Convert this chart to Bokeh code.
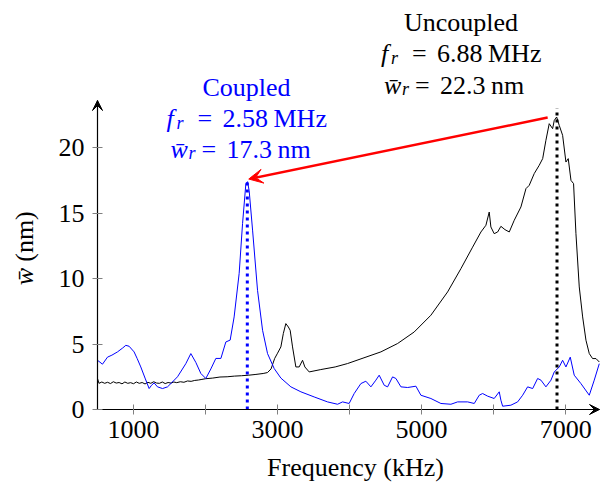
import numpy as np
from bokeh.plotting import figure
from bokeh.models import (Label, Arrow, VeeHead, FixedTicker, Range1d)
from bokeh.embed import file_html
from bokeh.resources import INLINE

# ---------------- data ----------------
freq_uncoupled = [500, 520, 560, 600, 640, 680, 720, 760, 800, 840, 880, 920, 960, 1000,
                  1040, 1080, 1120, 1160, 1200, 1240, 1280, 1320, 1360, 1400, 1440, 1480,
                  1520, 1560, 1600, 1650, 1700, 1750, 1800, 1850, 1900, 1950, 2000, 2100,
                  2200, 2300, 2400, 2500, 2600, 2700, 2800, 2860, 2910, 2960, 3000, 3046,
                  3080, 3115, 3150, 3175, 3208, 3254, 3300, 3347, 3379, 3439, 3600, 3800,
                  3972, 4200, 4435, 4667, 4897, 5129, 5361, 5546, 5708, 5824, 5893, 5939,
                  5962, 6008, 6056, 6101, 6157, 6217, 6286, 6379, 6449, 6494, 6564, 6633,
                  6681, 6726, 6772, 6819, 6842, 6875, 6911, 6958, 7004, 7036, 7074, 7110,
                  7143, 7189, 7236, 7282, 7328, 7374, 7421, 7467]
w_uncoupled = [2.37, 2.0, 2.1, 2.0, 2.08, 1.98, 2.12, 2.02, 2.06, 1.96, 2.1, 2.0, 2.05, 1.97,
               2.1, 2.0, 2.06, 1.95, 2.08, 2.0, 2.12, 2.02, 2.0, 2.1, 1.98, 2.06,
               2.02, 2.1, 2.05, 2.12, 2.08, 2.18, 2.15, 2.22, 2.25, 2.3, 2.35, 2.4,
               2.48, 2.5, 2.55, 2.58, 2.62, 2.68, 2.75, 2.82, 3.1, 3.9, 4.3, 4.78,
               5.8, 6.56, 6.3, 6.05, 4.78, 3.25, 3.25, 3.76, 3.25, 2.87, 3.05, 3.25,
               3.51, 3.95, 4.4, 5.04, 5.92, 7.2, 8.98, 10.76, 12.4, 13.56, 14.07, 15.08,
               13.94, 13.43, 13.56, 13.99, 13.74, 13.56, 14.45, 15.47, 16.87, 17.12, 18.02, 18.65,
               19.16, 20.56, 21.83, 21.45, 22.08, 22.34, 21.7, 20.94, 18.9, 19.16, 17.5, 17.25,
               13.43, 9.36, 7.07, 5.29, 4.27, 3.89, 3.89, 3.63]

freq_coupled = [500, 569, 639, 700, 778, 850, 893, 939, 1008, 1050, 1101, 1160, 1217, 1250,
                1286, 1333, 1403, 1472, 1540, 1611, 1726, 1796, 1865, 1935, 2004, 2074,
                2143, 2213, 2282, 2342, 2397, 2467, 2514, 2560, 2583, 2606, 2653, 2722,
                2792, 2861, 2953, 3046, 3185, 3324, 3508, 3694, 3833, 3903, 3994, 4064,
                4157, 4226, 4296, 4365, 4411, 4481, 4528, 4597, 4643, 4713, 4806, 4921,
                4990, 5129, 5268, 5407, 5500, 5639, 5731, 5800, 5847, 5917, 6008, 6078,
                6101, 6125, 6240, 6333, 6403, 6472, 6542, 6611, 6657, 6726, 6796, 6842,
                6911, 6958, 7004, 7064, 7119, 7212, 7328, 7397, 7467]
w_coupled = [3.76, 3.46, 4.0, 4.15, 4.4, 4.7, 4.9, 4.83, 4.4, 3.9, 3.25, 2.4, 1.6, 1.85,
             2.03, 1.73, 1.6, 1.73, 2.1, 2.5, 3.5, 4.27, 3.6, 2.75, 2.37, 3.1,
             3.9, 3.9, 5.16, 5.3, 7.07, 10.4, 14.2, 17.25, 17.4, 16.7, 13.7, 9.1,
             6.05, 4.27, 3.13, 2.4, 1.73, 1.35, 0.96, 0.58, 0.4, 0.58, 0.46, 1.22,
             1.98, 2.16, 1.73, 2.24, 2.62, 1.85, 1.73, 2.49, 2.37, 1.73, 1.68, 1.78,
             1.09, 0.84, 0.46, 0.4, 0.58, 0.58, 0.46, 1.09, 1.22, 1.02, 0.84, 1.35,
             0.71, 0.25, 0.33, 0.58, 1.09, 1.73, 1.6, 2.37, 2.24, 1.73, 2.24, 2.87,
             3.25, 3.76, 3.25, 4.0, 2.62, 1.98, 1.09, 2.24, 3.5]

# resonance markers: [coupled, uncoupled]
peak_freq = [2580, 6880]
peak_marker_top = [17.6, 23.0]
arrow_from = (6750, 22.3)
arrow_to = (2600, 17.6)

x_ticks = [1000, 2000, 3000, 4000, 5000, 6000, 7000]
x_tick_labels = {1000: "1000", 2000: "", 3000: "3000", 4000: "", 5000: "5000", 6000: "", 7000: "7000"}
y_ticks = [0, 5, 10, 15, 20]

# ---------------- layout ----------------
W, H = 600, 485
L, R, T, B = 97, 599, 100, 409       # pixel box of the axes
X0, X1 = 500, 7470                   # axis extents (data)
Y0, Y1 = 0, 23.6
FONT = "Liberation Serif"
FS = "26px"
SUB = "18px"
BLUE = "#0000ff"
SHIFT = 9   # label baseline correction (px)

KX = (X1 - X0) / (R - L)
KY = (Y1 - Y0) / (B - T)


def dx(px):
    return X0 + (px - L) * KX


def dy(py):
    return Y0 + (B - py) * KY


# frame covers the whole canvas; axes are pinned at x=500 and y=0
p = figure(width=W, height=H, output_backend="svg", toolbar_location=None,
           x_range=Range1d(dx(0), dx(W)), y_range=Range1d(dy(H), dy(0)),
           min_border_left=0, min_border_right=0, min_border_top=0, min_border_bottom=0)
p.outline_line_color = None
p.grid.visible = False
p.background_fill_color = "white"
p.border_fill_color = "white"

xa = p.xaxis[0]
ya = p.yaxis[0]
xa.fixed_location = Y0
ya.fixed_location = X0
xa.bounds = (X0, X1)
ya.bounds = (Y0, Y1)

for ax in (xa, ya):
    ax.axis_line_color = "black"
    ax.axis_line_width = 1.2
    ax.major_tick_line_color = "#808080"
    ax.major_tick_in = 5
    ax.major_tick_out = 5
    ax.minor_tick_line_color = None
    ax.major_label_text_font = FONT
    ax.major_label_text_font_size = FS
    ax.major_label_text_color = "black"

xa.ticker = FixedTicker(ticks=x_ticks)
xa.major_label_overrides = x_tick_labels
xa.major_label_standoff = 6
ya.ticker = FixedTicker(ticks=y_ticks)
ya.major_label_standoff = 8

# axis arrow heads
p.add_layout(Arrow(end=VeeHead(size=10, fill_color="black", line_color="black"),
                   x_start=X1 - 50, y_start=Y0, x_end=X1, y_end=Y0, line_color="black", line_width=1.2))
p.add_layout(Arrow(end=VeeHead(size=10, fill_color="black", line_color="black"),
                   x_start=X0, y_start=Y1 - 0.5, x_end=X0, y_end=Y1, line_color="black", line_width=1.2))

# curves
p.line(freq_uncoupled, w_uncoupled, line_color="black", line_width=1)
p.line(freq_coupled, w_coupled, line_color=BLUE, line_width=1)

# dotted resonance markers
p.segment(x0=[peak_freq[0]], y0=[0], x1=[peak_freq[0]], y1=[peak_marker_top[0]],
          line_color=BLUE, line_width=3, line_dash="3 4")
p.segment(x0=[peak_freq[1]], y0=[0], x1=[peak_freq[1]], y1=[peak_marker_top[1]],
          line_color="black", line_width=3, line_dash="3 4")

# red arrow
p.add_layout(Arrow(end=VeeHead(size=14, fill_color="red", line_color="red"),
                   x_start=arrow_from[0], y_start=arrow_from[1],
                   x_end=arrow_to[0], y_end=arrow_to[1],
                   line_color="red", line_width=2.5))


def txt(s, px, py, color="black", size=FS, style="normal", align="left", angle=0):
    if angle == 0:
        py = py - SHIFT
    else:
        px = px - SHIFT
    p.add_layout(Label(x=dx(px), y=dy(py), text=s, text_font=FONT, text_font_size=size,
                       text_font_style=style, text_color=color, text_align=align,
                       text_baseline="alphabetic", angle=angle))


def math_line(var, num, unit, start, base, color, sub_dx):
    txt(var, start, base, color, style="italic")
    txt("r", start + sub_dx, base + 4, color, size=SUB, style="italic")
    txt("=", start + 31, base, color)
    txt(num, start + 56, base, color)
    txt(unit, start + 107, base, color)


# Coupled annotation
txt("Coupled", 246, 96, BLUE, align="center")
math_line("f", "2.58", "MHz", 166, 127, BLUE, 10)
math_line("w\u0304", "17.3", "nm", 170, 157.5, BLUE, 18)

# Uncoupled annotation
txt("Uncoupled", 460.5, 30.5, "black", align="center")
math_line("f", "6.88", "MHz", 380.5, 62, "black", 10)
math_line("w\u0304", "22.3", "nm", 383.5, 93.5, "black", 18)

# axis titles
txt("Frequency (kHz)", 355, 476, "black", align="center")
txt("(nm)", 33, 236, "black", align="center", angle=np.pi / 2)
txt("w\u0304", 33, 276, "black", style="italic", align="center", angle=np.pi / 2)

open("out.html", "w").write(file_html(p, INLINE))
